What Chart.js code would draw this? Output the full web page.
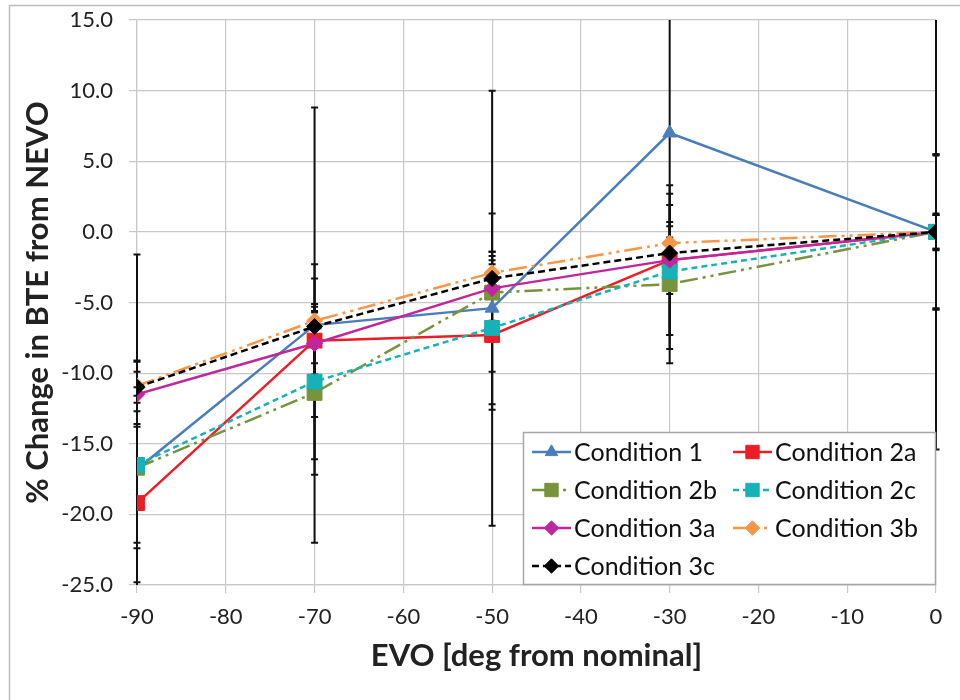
<!DOCTYPE html>
<html>
<head>
<meta charset="utf-8">
<script src="https://cdn.jsdelivr.net/npm/chart.js@4.4.1/dist/chart.umd.min.js"></script>
<style>
html,body{margin:0;background:#fff;}
#wrap{position:relative;width:960px;height:700px;}
</style>
</head>
<body>
<div id="wrap"><canvas id="chart"></canvas></div>
<script>
// EVO positions (deg from nominal)
const evo = [-90, -70, -50, -30, 0];

// % change in BTE from NEVO
const cond1  = [-16.8, -6.6, -5.4,  7.0, 0];
const cond2a = [-19.2, -7.7, -7.3, -2.0, 0];
const cond2b = [-16.7, -11.4, -4.3, -3.7, 0];
const cond2c = [-16.5, -10.6, -6.8, -2.8, 0];
const cond3a = [-11.5, -7.9, -4.0, -2.0, 0];
const cond3b = [-10.9, -6.3, -2.9, -0.8, 0];
const cond3c = [-11.0, -6.7, -3.3, -1.5, 0];

// error bar half widths (same units)
const err1  = [5.2, 15.4, 15.4, 14.3, 15.4];
const err2a = [5.6, 5.4, 5.3, 5.3, 5.5];
const err2b = [5.7, 5.8, 5.6, 5.6, 5.5];
const err2c = [14.9, 5.5, 5.4, 5.5, 5.4];
const err3a = [2.3, 2.2, 2.3, 2.4, 1.2];
const err3b = [1.8, 3.0, 1.5, 1.5, 1.3];
const err3c = [1.1, 1.4, 1.0, 1.1, 1.2];

const xTicks = [-90, -80, -70, -60, -50, -40, -30, -20, -10, 0];
const yTicks = [15, 10, 5, 0, -5, -10, -15, -20, -25];

const FONT = 'Lato, "Open Sans", sans-serif';
const GRID = '#c8c8c8';

function pts(vals){ return evo.map((x,i)=>({x:x, y:vals[i]})); }

function series(label, vals, err, color, style, radius, dash){
  return {
    label: label,
    data: pts(vals),
    err: err,
    borderColor: color,
    backgroundColor: color,
    pointBackgroundColor: color,
    pointBorderColor: color,
    pointStyle: style,
    pointRadius: radius,
    pointHoverRadius: radius,
    pointBorderWidth: 1,
    borderWidth: 2.5,
    borderDash: dash,
    tension: 0
  };
}

const datasets = [
  series('Condition 1',  cond1,  err1,  '#4a7ebb', 'triangle', 8, []),
  series('Condition 2a', cond2a, err2a, '#ee1c25', 'rect', 10.5, []),
  series('Condition 2b', cond2b, err2b, '#77933c', 'rect', 10.5, [18,5,3,5,3,5]),
  series('Condition 2c', cond2c, err2c, '#17b1b8', 'rect', 10.5, [6,4]),
  series('Condition 3a', cond3a, err3a, '#c0279f', 'rectRot', 8, []),
  series('Condition 3b', cond3b, err3b, '#f79646', 'rectRot', 8, [18,5,3,5,3,5]),
  series('Condition 3c', cond3c, err3c, '#000000', 'rectRot', 8, [7,4])
];
// later series drawn on top, like the original
datasets.forEach((d,i)=>d.order = datasets.length - i);

// outer frame
const framePlugin = {
  id:'frame',
  beforeDraw(chart){
    const ctx=chart.ctx;
    ctx.save();
    ctx.strokeStyle='#bdbdbd'; ctx.lineWidth=1.5;
    ctx.beginPath();
    ctx.moveTo(9.5, 700); ctx.lineTo(9.5, 5.5); ctx.lineTo(960, 5.5);
    ctx.stroke();
    ctx.restore();
  }
};

// vertical error bars
const errorBars = {
  id:'errorBars',
  beforeDatasetsDraw(chart){
    const {ctx, chartArea:a, scales:{x,y}} = chart;
    ctx.save();
    ctx.beginPath(); ctx.rect(a.left-6, a.top, a.right-a.left+12, a.bottom-a.top); ctx.clip();
    ctx.strokeStyle='#111'; ctx.lineWidth=2;
    chart.data.datasets.forEach(ds=>{
      ds.data.forEach((p,i)=>{
        const e=ds.err[i];
        const px=x.getPixelForValue(p.x);
        const y1=y.getPixelForValue(p.y+e), y2=y.getPixelForValue(p.y-e);
        ctx.beginPath();
        ctx.moveTo(px,y1); ctx.lineTo(px,y2);
        ctx.moveTo(px-3.5,y1); ctx.lineTo(px+3.5,y1);
        ctx.moveTo(px-3.5,y2); ctx.lineTo(px+3.5,y2);
        ctx.stroke();
      });
    });
    ctx.restore();
  }
};

// legend box inside the plot, bottom right
const boxLegend = {
  id:'boxLegend',
  afterDraw(chart){
    const ctx=chart.ctx;
    const a=chart.chartArea;
    const left=523, top=432, right=a.right, bottom=a.bottom;
    ctx.save();
    ctx.fillStyle='#fff';
    ctx.fillRect(left,top,right-left,bottom-top);
    ctx.strokeStyle='#a6a6a6'; ctx.lineWidth=1.5;
    ctx.strokeRect(left+0.5,top+0.5,right-left-1,bottom-top-1);
    ctx.font='25px '+FONT;
    ctx.textBaseline='middle';
    const cols=[532,733], rowY=[452,490,528,566];
    chart.data.datasets.forEach((ds,i)=>{
      const cx=cols[i%2], cy=rowY[Math.floor(i/2)];
      ctx.strokeStyle=ds.borderColor; ctx.lineWidth=2.5;
      ctx.setLineDash(ds.borderDash);
      ctx.beginPath(); ctx.moveTo(cx,cy); ctx.lineTo(cx+39,cy); ctx.stroke();
      ctx.setLineDash([]);
      ctx.fillStyle=ds.backgroundColor; ctx.strokeStyle=ds.borderColor; ctx.lineWidth=1;
      Chart.helpers.drawPoint(ctx,{pointStyle:ds.pointStyle, radius:ds.pointRadius*0.9, rotation:0, borderWidth:1}, cx+19.5, cy);
      ctx.fillStyle='#111';
      ctx.fillText(ds.label, cx+42, cy+1);
    });
    ctx.restore();
  }
};

new Chart(document.getElementById('chart'), {
  type:'line',
  data:{ datasets: datasets },
  plugins:[framePlugin, errorBars, boxLegend],
  options:{
    responsive:true,
    maintainAspectRatio:false,
    animation:false,
    layout:{ padding:{ top:20, right:24, left:0, bottom:0 } },
    plugins:{ legend:{display:false}, tooltip:{enabled:false} },
    scales:{
      x:{
        type:'linear', min:-90, max:0,
        afterFit(s){ s.height=115; s.paddingLeft=0; s.paddingRight=0; },
        afterBuildTicks(s){ s.ticks = xTicks.map(v=>({value:v})); },
        ticks:{ font:{family:FONT, size:22}, color:'#222', padding:11 },
        grid:{ color:GRID, lineWidth:1.2, tickLength:8, tickColor:GRID },
        border:{ color:GRID, width:1.2 },
        title:{ display:true, text:'EVO [deg from nominal]', color:'#222',
                font:{family:FONT, size:31, weight:'bold'}, padding:{top:0,bottom:25} }
      },
      y:{
        min:-25, max:15,
        afterFit(s){ s.width=137; s.paddingTop=0; s.paddingBottom=0; },
        afterBuildTicks(s){ s.ticks = yTicks.map(v=>({value:v})); },
        ticks:{ font:{family:FONT, size:22}, color:'#222', padding:16,
                callback:v=>v.toFixed(1) },
        grid:{ color:GRID, lineWidth:1.2, tickLength:8, tickColor:GRID },
        border:{ color:GRID, width:1.2 },
        title:{ display:true, text:'% Change in BTE from NEVO', color:'#222',
                font:{family:FONT, size:31, weight:'bold'}, padding:{top:19,bottom:0} }
      }
    }
  }
});
</script>
</body>
</html>
